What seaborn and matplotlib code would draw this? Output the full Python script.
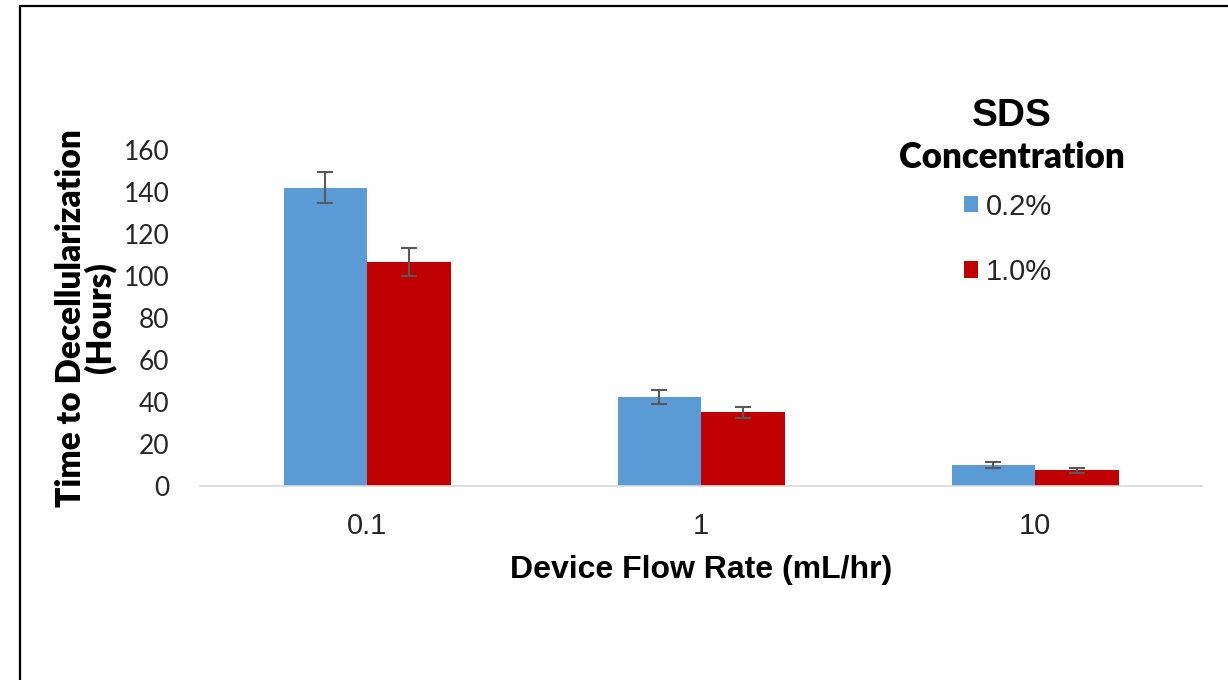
import matplotlib
matplotlib.use('Agg')
import matplotlib.pyplot as plt
from matplotlib.lines import Line2D
import seaborn as sns
import pandas as pd

# data
flow_rates = ['0.1', '1', '10']
conc_levels = ['0.2%', '1.0%']
hours_02 = [142, 42.4, 10.0]
hours_10 = [106.7, 35.1, 7.5]
err_02 = [7.4, 3.2, 1.3]
err_10 = [6.7, 2.6, 1.2]
bar_colors = ['#5B9BD5', '#C00000']

df = pd.DataFrame({
    'flow': flow_rates * 2,
    'conc': [conc_levels[0]] * 3 + [conc_levels[1]] * 3,
    'hours': hours_02 + hours_10,
    'err': err_02 + err_10,
})

sns.set_style('white')
plt.rcParams['font.family'] = ['Liberation Sans', 'DejaVu Sans']
calibri_like = ['Lato', 'DejaVu Sans']
arial_like = ['Liberation Sans', 'DejaVu Sans']

fig = plt.figure(figsize=(12.28, 6.8), dpi=100)
ax = fig.add_axes([200 / 1228, 1 - 486 / 680, 1002 / 1228, 336 / 680])

sns.barplot(data=df, x='flow', y='hours', hue='conc', palette=bar_colors,
            width=0.5, errorbar=None, saturation=1, linewidth=0, ax=ax)

# error bars on the bar centres that seaborn placed
errs = [err_02, err_10]
vals = [hours_02, hours_10]
bar_conts = list(ax.containers)
for i, cont in enumerate(bar_conts):
    xs = [b.get_x() + b.get_width() / 2 for b in cont]
    ax.errorbar(xs, vals[i], yerr=errs[i], fmt='none', ecolor='#595959',
                elinewidth=1.5, capsize=6, capthick=1.5, zorder=3)

ax.set_ylim(0, 160)
ax.set_xlim(-0.5, 2.5)
ax.set_yticks(range(0, 161, 20))
for s in ['top', 'right', 'left']:
    ax.spines[s].set_visible(False)
ax.spines['bottom'].set_color('#d9d9d9')
ax.spines['bottom'].set_linewidth(1.2)
ax.tick_params(axis='both', length=0)
ax.tick_params(axis='y', pad=22)
ax.tick_params(axis='x', pad=18.5)
for t in ax.get_yticklabels():
    t.set_family(calibri_like)
    t.set_fontsize(19)
    t.set_color('#262626')
for t in ax.get_xticklabels():
    t.set_family(arial_like)
    t.set_fontsize(21)
    t.set_color('#262626')

ax.set_ylabel('Time to Decellularization\n(Hours)', fontsize=24,
              fontweight='heavy', family=calibri_like, color='black',
              linespacing=0.88, labelpad=5)
ax.set_xlabel('Device Flow Rate (mL/hr)', fontsize=23, fontweight='bold',
              family=arial_like, color='black', labelpad=11)

leg = ax.legend(loc='upper center',
                bbox_to_anchor=(1008 / 1228, 1 - 178 / 680),
                bbox_transform=fig.transFigure, frameon=False,
                prop={'family': arial_like, 'size': 21},
                handlelength=0.48, handleheight=0.48,
                handletextpad=0.3, labelspacing=1.28, borderpad=0)
for t in leg.get_texts():
    t.set_color('#262626')
fig.text(1012 / 1228, 1 - 116 / 680, 'SDS', ha='center', va='center',
         fontsize=28, fontweight='bold', family=arial_like, color='black')
fig.text(1012 / 1228, 1 - 158 / 680, 'Concentration', ha='center',
         va='center', fontsize=25, fontweight='heavy', family=calibri_like,
         color='black')

# border of the picture (top and left edges only)
fig.add_artist(Line2D([20 / 1228, 1], [1 - 6 / 680] * 2, color='black',
                      lw=1.6, transform=fig.transFigure))
fig.add_artist(Line2D([20 / 1228] * 2, [0, 1 - 6 / 680], color='black',
                      lw=1.6, transform=fig.transFigure))

fig.savefig('out.png', dpi=100)
